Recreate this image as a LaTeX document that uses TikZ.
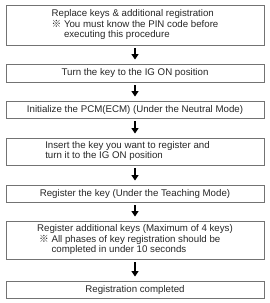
\documentclass[tikz,border=0pt]{standalone}
\usepackage{fontspec}
\setmainfont{Liberation Sans}
\newfontfamily\cjk{Noto Sans CJK KR}
\usetikzlibrary{arrows.meta}
\newcommand\refmk{{\cjk ※}}
\begin{document}
\begin{tikzpicture}[x=1pt,y=-1pt,
  box/.style={draw=black!55, line width=0.9pt, minimum width=258pt, inner sep=0pt,
    font=\fontsize{9.7}{10}\selectfont, text=black!85},
  flow/.style={-{Triangle[width=7pt,length=5.5pt]}, line width=1.8pt, black,
    shorten <=3pt, shorten >=4pt}]
\useasboundingbox (0,0) rectangle (269,303);
\node[box, minimum height=40pt] (b1) at (135,25) {\begin{tabular}{@{}l@{}}
Replace keys \& additional registration\\
\refmk\ You must know the PIN code before\\
\hphantom{\refmk\ }executing this procedure
\end{tabular}};
\node[box, minimum height=18pt] (b2) at (135,73) {Turn the key to the IG ON position};
\node[box, minimum height=17pt] (b3) at (135,109.5) {Initialize the PCM(ECM) (Under the Neutral Mode)};
\node[box, minimum height=27pt] (b4) at (135,151.5) {\begin{tabular}{@{}l@{\hspace{15pt}}}
Insert the key you want to register and\\
turn it to the IG ON position
\end{tabular}};
\node[box, minimum height=17pt] (b5) at (135,193.5) {Register the key (Under the Teaching Mode)};
\node[box, minimum height=38pt] (b6) at (135,240) {\begin{tabular}{@{}l@{}}
Register additional keys (Maximum of 4 keys)\\
\hspace{2pt}\refmk\ All phases of key registration should be\\
\hspace{2pt}\hphantom{\refmk\ }completed in under 10 seconds
\end{tabular}};
\node[box, minimum height=17pt] (b7) at (135,289.5) {Registration completed};
\draw[flow] (b1) -- (b2);
\draw[flow] (b2) -- (b3);
\draw[flow] (b3) -- (b4);
\draw[flow] (b4) -- (b5);
\draw[flow] (b5) -- (b6);
\draw[flow] (b6) -- (b7);
\end{tikzpicture}
\end{document}
